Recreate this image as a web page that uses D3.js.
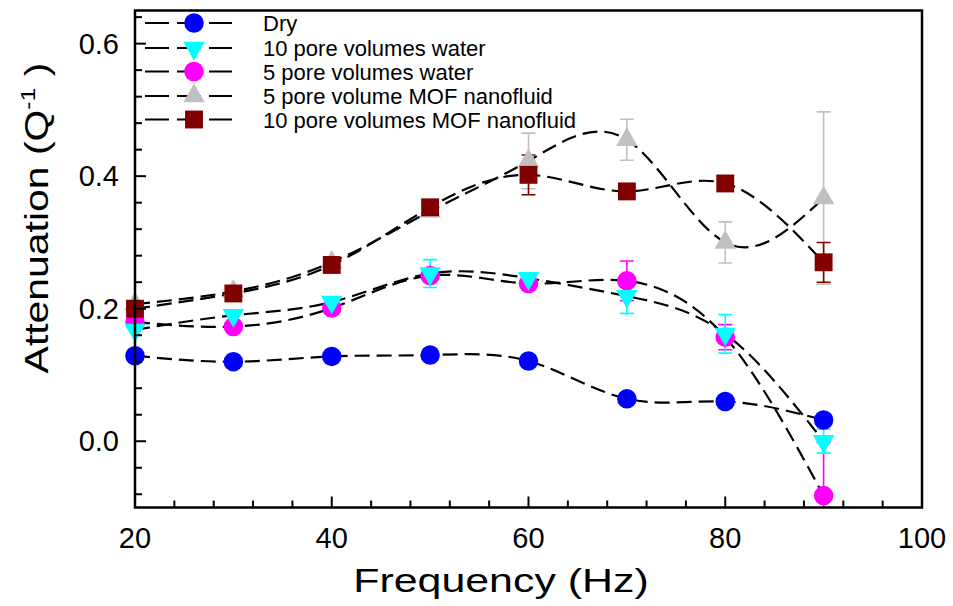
<!DOCTYPE html>
<head>
<meta charset="utf-8">
<script src="https://d3js.org/d3.v7.min.js"></script>
<style>
body, html { margin: 0; background: #fff; }
text { font-family: "Liberation Sans", Arial, sans-serif; fill: #000; }
.curve { fill: none; stroke: #000; stroke-width: 2.2px; stroke-dasharray: 15,7; }
</style>
</head>
<body>
<div id="chart"></div>
<script>
// values
var freq = [20, 30, 40, 50, 60, 70, 80, 90];
var dry     = [0.129, 0.120, 0.128, 0.130, 0.121, 0.064, 0.060, 0.032];
var water10 = [0.168, 0.190, 0.210, 0.253, 0.246, 0.219, 0.162, 0.000];
var water5  = [0.180, 0.173, 0.201, 0.250, 0.238, 0.242, 0.157, -0.082];
var mof5    = [0.207, 0.226, 0.270, 0.347, 0.423, 0.455, 0.300, 0.367];
var mof10   = [0.200, 0.223, 0.266, 0.353, 0.402, 0.377, 0.389, 0.270];
// error bars (half width), null where none is drawn
var errWater10 = [null, null, null, 0.021, null, 0.026, 0.029, 0.018];
var errWater5  = [null, null, null, null, null, 0.030, 0.019, 0.080];
var errMof5    = [null, null, null, null, 0.042, 0.031, 0.031, 0.130];
var errMof10   = [null, null, null, null, 0.030, null, null, 0.030];

var xTicks = [20, 40, 60, 80, 100];
var yTicks = [0.0, 0.2, 0.4, 0.6];

var series = [
  {name: "Dry", vals: dry, err: null, color: "#0000ff", shape: "circle"},
  {name: "5 pore volumes water", vals: water5, err: errWater5, color: "#ff00ff", shape: "circle"},
  {name: "10 pore volumes water", vals: water10, err: errWater10, color: "#00ffff", shape: "down"},
  {name: "5 pore volume MOF nanofluid", vals: mof5, err: errMof5, color: "#c0c0c0", shape: "up"},
  {name: "10 pore volumes MOF nanofluid", vals: mof10, err: errMof10, color: "#800000", shape: "square"}
];
var legendOrder = [0, 2, 1, 3, 4];

var W = 953, H = 606;
var pL = 135, pR = 922, pT = 10.5, pB = 507.5;

var svg = d3.select("#chart").append("svg")
    .attr("width", W).attr("height", H);

var x = d3.scaleLinear().domain([20, 100]).range([pL, pR]);
var y = d3.scaleLinear().domain([-0.1, 0.65]).range([pB, pT]);

svg.append("clipPath").attr("id", "clip")
  .append("rect").attr("x", pL).attr("y", pT)
  .attr("width", pR - pL).attr("height", pB - pT);

var plot = svg.append("g").attr("clip-path", "url(#clip)");

function symbol(shape) {
  if (shape == "circle") return d3.symbol().type(d3.symbolCircle).size(300)();
  if (shape == "square") return d3.symbol().type(d3.symbolSquare).size(320)();
  return d3.symbol().type(d3.symbolTriangle).size(200)();
}
function rot(shape) { return shape == "down" ? " rotate(180)" : ""; }

var line = d3.line()
    .x(function(d, i) { return x(freq[i]); })
    .y(function(d) { return y(d); })
    .curve(d3.curveNatural);

// dashed curves
series.forEach(function(s) {
  plot.append("path").attr("class", "curve").attr("d", line(s.vals));
});

// error bars
series.forEach(function(s) {
  if (!s.err) return;
  s.vals.forEach(function(v, i) {
    var e = s.err[i];
    if (e == null) return;
    var g = plot.append("g").attr("stroke", s.color).attr("stroke-width", 1.6);
    var cx = x(freq[i]);
    g.append("line").attr("x1", cx).attr("x2", cx).attr("y1", y(v - e)).attr("y2", y(v + e));
    [v - e, v + e].forEach(function(t) {
      g.append("line").attr("x1", cx - 7).attr("x2", cx + 7).attr("y1", y(t)).attr("y2", y(t));
    });
  });
});

// markers
series.forEach(function(s) {
  svg.append("g").selectAll("path")
    .data(s.vals)
    .enter().append("path")
      .attr("d", symbol(s.shape))
      .attr("transform", function(d, i) { return "translate(" + x(freq[i]) + "," + y(d) + ")" + rot(s.shape); })
      .attr("fill", s.color);
});

// frame
svg.append("rect").attr("x", pL).attr("y", pT)
  .attr("width", pR - pL).attr("height", pB - pT)
  .attr("fill", "none").attr("stroke", "#000").attr("stroke-width", 2.5);

// x axis ticks (inside)
var xAxis = svg.append("g");
d3.range(20, 100.1, 4).forEach(function(t) {
  var major = (t % 20 == 0);
  xAxis.append("line").attr("x1", x(t)).attr("x2", x(t))
    .attr("y1", pB).attr("y2", pB - (major ? 11 : 7))
    .attr("stroke", "#000").attr("stroke-width", 2);
});
xAxis.selectAll("text").data(xTicks).enter().append("text")
  .attr("x", function(d) { return x(d); })
  .attr("y", 548)
  .attr("text-anchor", "middle")
  .style("font-size", "29px")
  .text(function(d) { return d; });

// y axis ticks (inside)
var yAxis = svg.append("g");
d3.range(-0.08, 0.65, 0.04).forEach(function(t) {
  var major = Math.abs(Math.round(t / 0.2) * 0.2 - t) < 1e-6;
  yAxis.append("line").attr("x1", pL).attr("x2", pL + (major ? 11 : 7))
    .attr("y1", y(t)).attr("y2", y(t))
    .attr("stroke", "#000").attr("stroke-width", 2);
});
yAxis.selectAll("text").data(yTicks).enter().append("text")
  .attr("x", 119)
  .attr("y", function(d) { return y(d) + 10; })
  .attr("text-anchor", "end")
  .style("font-size", "29px")
  .text(function(d) { return d3.format(".1f")(d); });

// axis titles (the original font is a bit wider than Liberation Sans)
svg.append("text")
  .attr("transform", "translate(501,592) scale(1.3,1)")
  .attr("text-anchor", "middle")
  .style("font-size", "33px")
  .text("Frequency (Hz)");

var yt = svg.append("text")
  .attr("transform", "translate(48,218) rotate(-90) scale(1.24,1)")
  .attr("text-anchor", "middle")
  .style("font-size", "33px");
yt.append("tspan").text("Attenuation (Q");
yt.append("tspan").attr("dy", -13).style("font-size", "20px").text("-1");
yt.append("tspan").attr("dy", 13).text(" )");

// legend
var legRows = [23, 48, 71.5, 96, 119.5];
legendOrder.forEach(function(k, r) {
  var s = series[k];
  var ly = legRows[r];
  var g = svg.append("g");
  g.append("line").attr("x1", 145).attr("x2", 232).attr("y1", ly).attr("y2", ly)
    .attr("stroke", "#000").attr("stroke-width", 2.2).attr("stroke-dasharray", "24,8");
  g.append("path").attr("d", symbol(s.shape))
    .attr("transform", "translate(194," + ly + ")" + rot(s.shape))
    .attr("fill", s.color);
  g.append("text").attr("x", 263).attr("y", ly + 8)
    .style("font-size", "22px").text(s.name);
});
</script>
</body>
